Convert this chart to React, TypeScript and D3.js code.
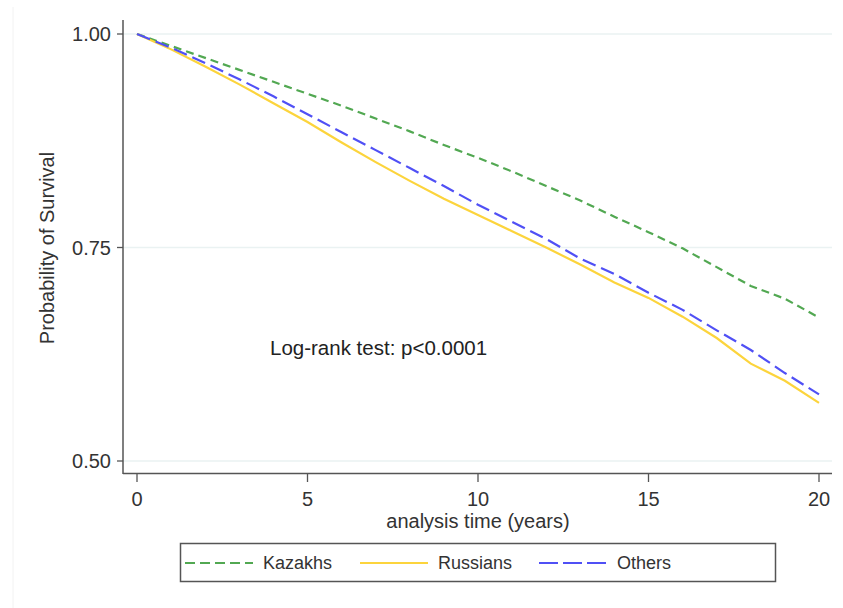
import React from "react";
import * as d3 from "d3";

const years = [0, 1, 2, 3, 4, 5, 6, 7, 8, 9, 10, 11, 12, 13, 14, 15, 16, 17, 18, 19, 20];
const kazakhs = [1.0, 0.986, 0.972, 0.958, 0.944, 0.93, 0.916, 0.901, 0.886, 0.87, 0.855, 0.839, 0.822, 0.805, 0.786, 0.768, 0.749, 0.727, 0.705, 0.69, 0.668];
const russians = [1.0, 0.982, 0.962, 0.941, 0.919, 0.897, 0.873, 0.85, 0.828, 0.807, 0.788, 0.769, 0.75, 0.73, 0.709, 0.691, 0.669, 0.644, 0.614, 0.594, 0.568];
const others = [1.0, 0.984, 0.966, 0.947, 0.927, 0.906, 0.885, 0.864, 0.843, 0.822, 0.8, 0.78, 0.76, 0.737, 0.719, 0.697, 0.677, 0.653, 0.63, 0.603, 0.578];
const xTicks = [0, 5, 10, 15, 20];
const yTicks = [0.5, 0.75, 1.0];
const seriesNames = ["Kazakhs", "Russians", "Others"];

const COLORS = ["#52a852", "#fcd43c", "#5050f5"];
const DASH = ["8,5", "", "14,6"];
const LEGEND_DASH = ["10,5", "", "19,5"];

export default function App() {
  const W = 843, H = 608;
  const x = d3.scaleLinear().domain([0, 20]).range([137, 819]);
  const y = d3.scaleLinear().domain([0.5, 1.0]).range([461, 34]);
  const font = "'Liberation Sans', Arial, sans-serif";
  const line = d3.line<number>().x((_, i) => x(years[i])).y((d) => y(d));
  const data = [kazakhs, russians, others];
  const legendLineX = [185, 360, 539];
  const legendTextX = [263, 438, 617];
  return (
    <svg width={W} height={H} style={{ position: "absolute", left: 0, top: 0, background: "#fff" }} fontFamily={font}>
      <line x1={13} x2={13} y1={7} y2={608} stroke="#f2f2f2" strokeWidth={1} />
      {yTicks.map((t) => (
        <g key={t}>
          <line x1={123} x2={832} y1={y(t)} y2={y(t)} stroke="#eaf2f2" strokeWidth={1.5} />
          <line x1={117} x2={123} y1={y(t)} y2={y(t)} stroke="#555" strokeWidth={1.3} />
          <text x={111} y={y(t)} dy="0.35em" textAnchor="end" fontSize={20} fill="#333">
            {t.toFixed(2)}
          </text>
        </g>
      ))}
      <line x1={123} x2={123} y1={20} y2={474} stroke="#555" strokeWidth={1.5} />
      <line x1={123} x2={832} y1={473.5} y2={473.5} stroke="#555" strokeWidth={1.5} />
      {xTicks.map((t) => (
        <g key={t}>
          <line x1={x(t)} x2={x(t)} y1={474} y2={482} stroke="#555" strokeWidth={1.3} />
          <text x={x(t)} y={499} dy="0.35em" textAnchor="middle" fontSize={20} fill="#333">
            {t}
          </text>
        </g>
      ))}
      <text x={478} y={521} dy="0.35em" textAnchor="middle" fontSize={20} fill="#333">
        analysis time (years)
      </text>
      <text transform="translate(47,248) rotate(-90)" dy="0.35em" textAnchor="middle" fontSize={20} fill="#333">
        Probability of Survival
      </text>
      <text x={270} y={348} dy="0.35em" fontSize={20.5} fill="#222">
        Log-rank test: p&lt;0.0001
      </text>
      {data.map((d, i) => (
        <path key={i} d={line(d) || ""} fill="none" stroke={COLORS[i]} strokeWidth={2.2} strokeDasharray={DASH[i] || undefined} />
      ))}
      <rect x={180.5} y={543.5} width={595} height={38} fill="#fff" stroke="#555" strokeWidth={1.5} />
      {seriesNames.map((n, i) => (
        <g key={n}>
          <line x1={legendLineX[i]} x2={legendLineX[i] + 68} y1={563} y2={563} stroke={COLORS[i]} strokeWidth={2.2} strokeDasharray={LEGEND_DASH[i] || undefined} />
          <text x={legendTextX[i]} y={563} dy="0.35em" fontSize={18} fill="#333">
            {n}
          </text>
        </g>
      ))}
    </svg>
  );
}
